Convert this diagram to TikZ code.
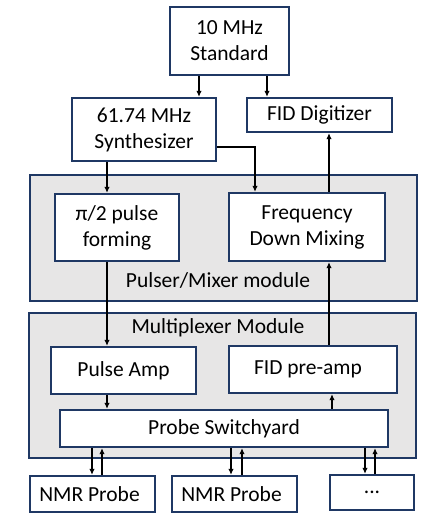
\documentclass[tikz,border=0pt]{standalone}
\usepackage{fontspec}
\setmainfont{Carlito}
\usetikzlibrary{arrows.meta}
\definecolor{navy}{HTML}{1F3864}
\definecolor{modfill}{HTML}{E7E6E6}
\tikzset{
  blk/.style={draw=navy, line width=2.3pt, fill=white, inner sep=0pt, align=center,
    font=\fontsize{21.5}{26}\selectfont},
  modbox/.style={draw=navy, line width=2.3pt, fill=modfill, inner sep=0pt},
  modlabel/.style={inner sep=0pt, font=\fontsize{21.5}{26}\selectfont},
  arr/.style={-{Latex[length=6pt,width=5.5pt]}, line width=1.5pt, black},
}
\begin{document}
\begin{tikzpicture}[x=1pt,y=-1pt]
\useasboundingbox (0,0) rectangle (439,521);
% modules
\node[modbox, minimum width=387pt, minimum height=126pt] (pm) at (223.5,238) {};
\node[modbox, minimum width=387pt, minimum height=145pt] (mux) at (222.5,385.5) {};
\node[modlabel] (pmlab) at (218,280) {Pulser/Mixer module};
\node[modlabel] (muxlab) at (218,328) {Multiplexer Module};
% blocks
\node[blk, minimum width=119pt, minimum height=68pt] (std) at (229.5,41) {10 MHz\\Standard};
\node[blk, minimum width=144pt, minimum height=63pt] (syn) at (144,129.5) {61.74 MHz\\Synthesizer};
\node[blk, minimum width=145pt, minimum height=34pt] (dig) at (319.5,115) {FID Digitizer};
\node[blk, minimum width=124pt, minimum height=67pt] (pf) at (117,227.5) {π/2 pulse\\forming};
\node[blk, minimum width=156pt, minimum height=68pt] (fdm) at (307,227) {Frequency\\Down Mixing};
\node[blk, minimum width=145pt, minimum height=47pt] (pa) at (123.5,370.5) {Pulse Amp};
\node[blk, minimum width=168pt, minimum height=47pt] (fpa) at (313,369.5) {FID pre-amp\hspace*{10pt}};
\node[blk, minimum width=328pt, minimum height=37pt] (psw) at (224,428.5) {Probe Switchyard};
\node[blk, minimum width=125pt, minimum height=36pt] (p1) at (92.5,494) {NMR Probe\hspace*{6pt}};
\node[blk, minimum width=125pt, minimum height=36pt] (p2) at (234.5,494) {NMR Probe\hspace*{6pt}};
\node[blk, minimum width=84pt, minimum height=35pt] (p3) at (372,492.5) {...};
% connectors
\draw[arr] (std.south -| 199,0) -- (syn.north -| 199,0);
\draw[arr] (std.south -| 267,0) -- (dig.north -| 267,0);
\draw[arr] (syn.south -| 107,0) -- (pf.north -| 107,0);
\draw[arr] (syn.east |- 0,147) -| (fdm.north -| 255,0);
\draw[arr] (fdm.north -| 329,0) -- (dig.south -| 329,0);
\draw[arr] (pf.south -| 107,0) -- (pa.north -| 107,0);
\draw[arr] (fpa.north -| 329,0) -- (fdm.south -| 329,0);
\draw[arr] (pa.south -| 107,0) -- (psw.north -| 107,0);
\draw[arr] (psw.north -| 332,0) -- (fpa.south -| 332,0);
\draw[arr] (psw.south -| 92,0) -- (p1.north -| 92,0);
\draw[arr] (p1.north -| 102,0) -- (psw.south -| 102,0);
\draw[arr] (psw.south -| 231,0) -- (p2.north -| 231,0);
\draw[arr] (p2.north -| 242,0) -- (psw.south -| 242,0);
\draw[arr] (psw.south -| 365,0) -- (p3.north -| 365,0);
\draw[arr] (p3.north -| 375,0) -- (psw.south -| 375,0);
\end{tikzpicture}
\end{document}
